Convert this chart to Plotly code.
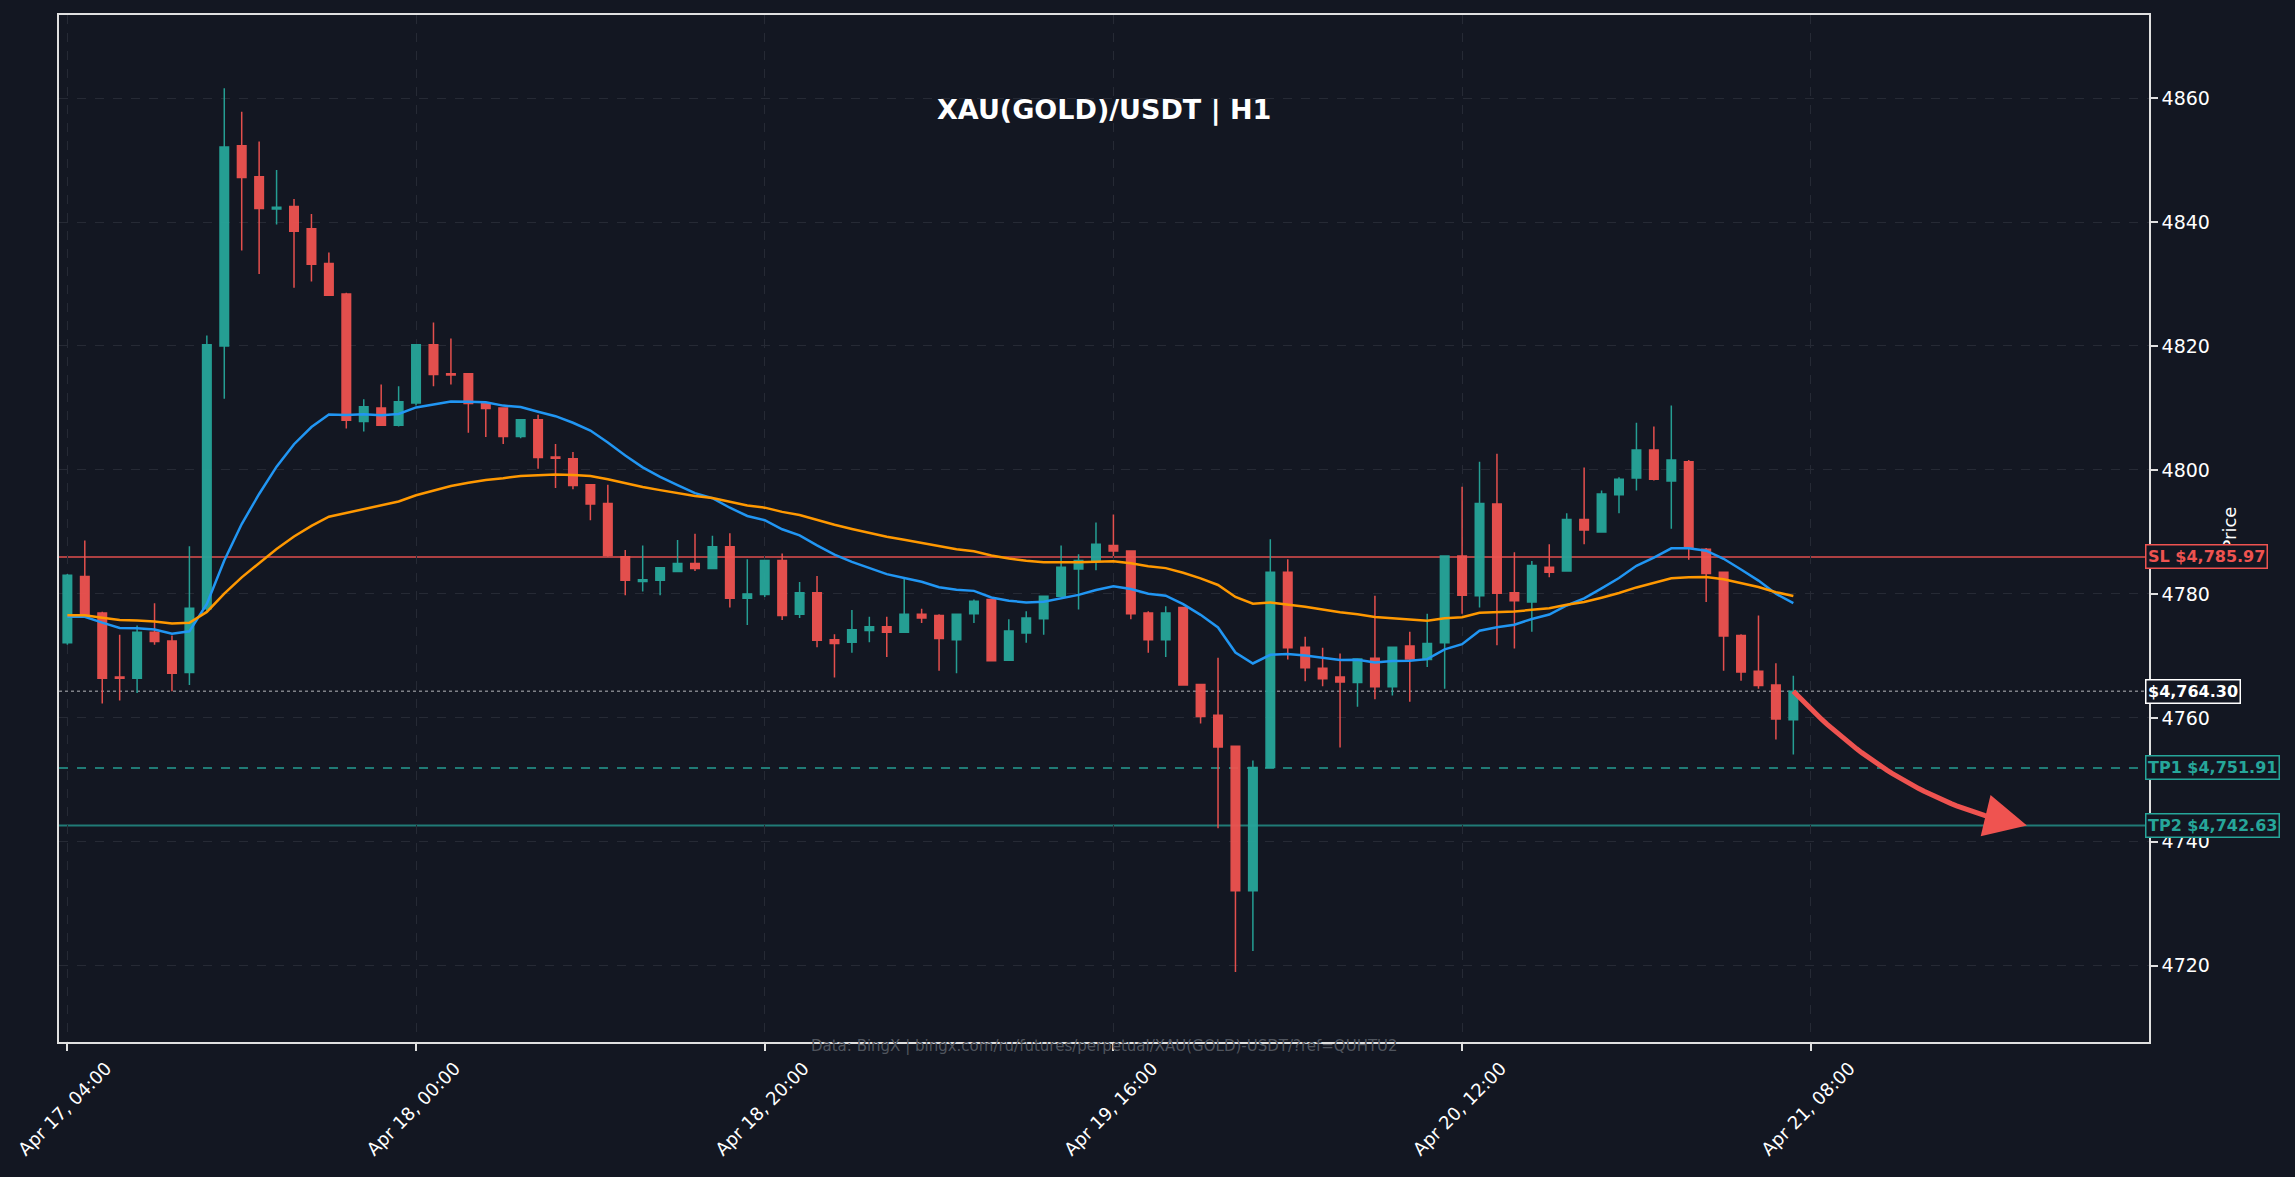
import pandas as pd
import plotly.graph_objects as go

# hourly candles, Apr 17 04:00 -> Apr 21 07:00
start = pd.Timestamp("2026-04-17 04:00")
times = pd.date_range(start, periods=100, freq="h")

opens = [4772.1, 4782.8, 4776.9, 4766.6, 4766.4, 4773.8, 4772.4, 4767.3, 4777.6, 4820.0,
         4852.3, 4847.3, 4842.1, 4842.5, 4838.9, 4833.3, 4828.4, 4807.8, 4810.0, 4807.2,
         4810.8, 4820.2, 4815.5, 4815.5, 4810.7, 4810.0, 4805.4, 4808.1, 4802.1, 4801.8,
         4797.6, 4794.6, 4786.0, 4782.0, 4782.2, 4783.6, 4784.9, 4784.1, 4787.6, 4779.3,
         4779.9, 4785.4, 4776.7, 4780.2, 4772.6, 4772.2, 4774.1, 4774.7, 4773.8, 4776.7,
         4776.5, 4772.6, 4776.8, 4779.1, 4769.3, 4773.7, 4776.0, 4779.6, 4784.0, 4785.4,
         4787.8, 4786.9, 4776.9, 4772.6, 4777.8, 4765.4, 4760.4, 4755.4, 4732.1, 4752.0,
         4783.5, 4771.4, 4768.0, 4766.6, 4765.7, 4769.6, 4765.0, 4771.6, 4769.4, 4772.1,
         4786.1, 4779.7, 4794.5, 4780.2, 4778.7, 4784.3, 4783.7, 4792.0, 4790.0, 4796.0,
         4798.7, 4803.2, 4798.2, 4801.3, 4787.2, 4783.5, 4773.3, 4767.5, 4765.3, 4759.7]
highs = [4783.2, 4788.6, 4777.1, 4773.4, 4774.9, 4778.5, 4773.3, 4787.7, 4821.7, 4861.6,
         4857.8, 4853.0, 4848.4, 4843.7, 4841.3, 4835.1, 4828.6, 4811.4, 4813.8, 4813.5,
         4820.3, 4823.8, 4821.2, 4815.6, 4810.9, 4810.1, 4808.2, 4808.9, 4804.2, 4802.9,
         4797.7, 4797.6, 4787.1, 4787.8, 4784.3, 4788.7, 4789.7, 4789.4, 4789.8, 4785.6,
         4785.5, 4786.5, 4781.9, 4782.9, 4773.5, 4777.4, 4776.3, 4776.3, 4782.6, 4777.6,
         4776.7, 4776.8, 4779.1, 4779.2, 4775.9, 4777.2, 4779.6, 4787.8, 4786.4, 4791.5,
         4792.8, 4787.0, 4777.2, 4778.0, 4777.9, 4765.5, 4769.7, 4755.5, 4753.1, 4788.8,
         4785.6, 4773.1, 4771.3, 4770.4, 4769.6, 4779.7, 4771.5, 4773.9, 4776.8, 4786.2,
         4797.3, 4801.3, 4802.6, 4786.7, 4785.3, 4788.0, 4793.0, 4800.4, 4796.7, 4798.8,
         4807.6, 4807.0, 4810.4, 4801.6, 4787.4, 4783.6, 4773.5, 4776.5, 4768.8, 4766.8]
lows = [4771.8, 4776.2, 4762.3, 4762.8, 4764.0, 4771.8, 4764.3, 4765.3, 4777.2, 4811.5,
        4835.4, 4831.6, 4839.6, 4829.4, 4830.4, 4828.1, 4806.7, 4806.2, 4807.1, 4807.0,
        4810.4, 4813.5, 4813.8, 4806.0, 4805.3, 4804.2, 4805.1, 4800.2, 4797.1, 4796.9,
        4791.9, 4786.0, 4779.8, 4780.4, 4779.8, 4783.5, 4783.7, 4784.0, 4777.8, 4775.0,
        4779.5, 4775.8, 4776.1, 4771.4, 4766.5, 4770.5, 4772.2, 4769.8, 4773.7, 4775.3,
        4767.6, 4767.2, 4775.3, 4769.1, 4769.2, 4772.1, 4773.4, 4779.5, 4777.5, 4783.8,
        4786.1, 4775.9, 4770.5, 4769.8, 4765.2, 4759.1, 4742.2, 4719.0, 4722.4, 4751.9,
        4769.4, 4765.9, 4765.1, 4755.2, 4761.8, 4763.0, 4763.6, 4762.6, 4768.2, 4764.7,
        4776.8, 4777.8, 4771.7, 4771.2, 4773.9, 4782.7, 4783.6, 4788.0, 4789.9, 4793.0,
        4796.7, 4798.3, 4790.5, 4785.5, 4778.7, 4767.6, 4766.0, 4764.7, 4756.5, 4754.1]
closes = [4783.0, 4776.3, 4766.4, 4766.4, 4773.8, 4772.3, 4767.2, 4777.7, 4820.2, 4852.1,
          4847.2, 4842.2, 4842.4, 4838.5, 4833.2, 4828.2, 4808.0, 4810.2, 4807.2, 4811.0,
          4820.2, 4815.4, 4815.3, 4810.7, 4809.9, 4805.4, 4808.1, 4802.0, 4801.9, 4797.5,
          4794.5, 4786.2, 4782.2, 4782.3, 4784.2, 4784.9, 4784.1, 4787.6, 4779.3, 4780.0,
          4785.4, 4776.5, 4780.2, 4772.5, 4772.0, 4774.2, 4774.7, 4773.8, 4776.7, 4776.1,
          4772.8, 4776.7, 4778.8, 4769.2, 4774.0, 4776.1, 4779.6, 4784.3, 4785.4, 4788.0,
          4786.9, 4776.8, 4772.6, 4776.9, 4765.3, 4760.2, 4755.3, 4732.1, 4752.0, 4783.5,
          4771.3, 4768.1, 4766.3, 4765.8, 4769.5, 4765.0, 4771.4, 4769.5, 4772.0, 4786.1,
          4779.8, 4794.6, 4780.1, 4778.9, 4784.6, 4783.5, 4792.0, 4790.3, 4796.1, 4798.5,
          4803.2, 4798.5, 4801.6, 4787.4, 4783.3, 4773.2, 4767.4, 4765.2, 4759.8, 4764.3]

# trade levels
sl_price = 4785.97
tp1_price = 4751.91
tp2_price = 4742.63
last_price = closes[-1]

# EMA starting values (value before the first visible candle)
ema20_seed = 4775.6
ema50_seed = 4776.3

BG = "#131722"
UP = "#26a69a"
DOWN = "#ef5350"
FONT = "DejaVu Sans"


def ema(values, span, seed):
    a = 2 / (span + 1)
    out, e = [], seed
    for v in values:
        e += a * (v - e)
        out.append(e)
    return out


ema20 = ema(closes, 20, ema20_seed)
ema50 = ema(closes, 50, ema50_seed)

fig = go.Figure()

fig.add_trace(go.Candlestick(
    x=times, open=opens, high=highs, low=lows, close=closes,
    increasing=dict(line=dict(color=UP, width=1.5), fillcolor=UP),
    decreasing=dict(line=dict(color=DOWN, width=1.5), fillcolor=DOWN),
    whiskerwidth=0, opacity=0.95, name="XAU"))

fig.add_trace(go.Scatter(x=times, y=ema20, mode="lines",
                         line=dict(color="#2196f3", width=2.5), name="EMA 20"))
fig.add_trace(go.Scatter(x=times, y=ema50, mode="lines",
                         line=dict(color="#ff9800", width=2.5), name="EMA 50"))

# horizontal levels
fig.add_hline(y=sl_price, line=dict(color="rgba(239,83,80,0.7)", width=2), layer="below")
fig.add_hline(y=tp1_price, line=dict(color="rgba(38,166,154,0.7)", width=2, dash="dash"), layer="below")
fig.add_hline(y=tp2_price, line=dict(color="rgba(38,166,154,0.7)", width=2), layer="below")
fig.add_hline(y=last_price, line=dict(color="rgba(200,200,205,0.6)", width=1.5, dash="dot"), layer="below")

# curved projection arrow: last close -> TP2
hr = pd.Timedelta(hours=1)
p0 = (0.0, last_price)
p2 = (13.4, tp2_price)
p1 = (6.0, last_price - 18.0)
curve_t, curve_y = [], []
steps = 40
for i in range(steps + 1):
    s = 0.9 * i / steps
    bx = (1 - s) ** 2 * p0[0] + 2 * (1 - s) * s * p1[0] + s ** 2 * p2[0]
    by = (1 - s) ** 2 * p0[1] + 2 * (1 - s) * s * p1[1] + s ** 2 * p2[1]
    curve_t.append(times[-1] + bx * hr)
    curve_y.append(by)
fig.add_trace(go.Scatter(x=curve_t, y=curve_y, mode="lines",
                         line=dict(color=DOWN, width=5), hoverinfo="skip"))
fig.add_annotation(x=times[-1] + p2[0] * hr, y=p2[1], xref="x", yref="y",
                   ax=curve_t[-4], ay=curve_y[-4], axref="x", ayref="y",
                   text="", showarrow=True, arrowhead=2, arrowsize=1.7,
                   arrowwidth=5, arrowcolor=DOWN)

# price tags on the right edge
tags = [
    (sl_price, f"SL ${sl_price:,.2f}", DOWN),
    (last_price, f"${last_price:,.2f}", "#ffffff"),
    (tp1_price, f"TP1 ${tp1_price:,.2f}", UP),
    (tp2_price, f"TP2 ${tp2_price:,.2f}", UP),
]
for price, label, col in tags:
    fig.add_annotation(x=1, xref="paper", xanchor="left", xshift=-4,
                       y=price, yref="y", yanchor="middle",
                       text=f"<b>{label}</b>", showarrow=False,
                       font=dict(family=FONT, size=16, color=col),
                       bgcolor=BG, bordercolor=col, borderwidth=1.5, borderpad=1.5)

fig.add_annotation(x=0.5, y=0.9075, xref="paper", yref="paper", yanchor="middle",
                   text="<b>XAU(GOLD)/USDT | H1</b>", showarrow=False,
                   font=dict(family=FONT, size=27, color="#ffffff"))
fig.add_annotation(x=0.5, y=-0.004, xref="paper", yref="paper", yanchor="middle",
                   text="Data: BingX | bingx.com/ru/futures/perpetual/XAU(GOLD)-USDT/?ref=QUHTU2",
                   showarrow=False, font=dict(family=FONT, size=15, color="#50555e"))

axis_style = dict(showgrid=True, gridcolor="#262a35", griddash="dash", gridwidth=1.2,
                  showline=True, linecolor="#e0e0e0", linewidth=1.5, mirror=True,
                  ticks="outside", ticklen=7, tickwidth=1.5, tickcolor="#e0e0e0",
                  zeroline=False, ticklabeloverflow="allow")

fig.update_layout(
    width=2295, height=1177,
    paper_bgcolor=BG, plot_bgcolor=BG,
    margin=dict(l=59, r=146, t=15, b=135),
    showlegend=False,
    font=dict(family=FONT, color="#ffffff"),
    xaxis=dict(type="date", rangeslider=dict(visible=False),
               range=[start - 0.48 * hr, start + 119.4 * hr],
               tick0=start, dtick=20 * 3600 * 1000, tickformat="%b %d, %H:%M",
               tickangle=-45, ticklabelshift=39, ticklabelstandoff=0,
               tickfont=dict(family=FONT, size=18, color="#ffffff"), **axis_style),
    yaxis=dict(side="right", range=[4707.7, 4873.4], tick0=4720, dtick=20,
               tickfont=dict(family=FONT, size=19, color="#ffffff"),
               title=dict(text="Price", font=dict(family=FONT, size=18, color="#ffffff"), standoff=14),
               **axis_style),
)

fig.write_html("out.html", config={"displayModeBar": False},
               post_script="document.body.style.margin='0';document.body.style.background='#131722';")
